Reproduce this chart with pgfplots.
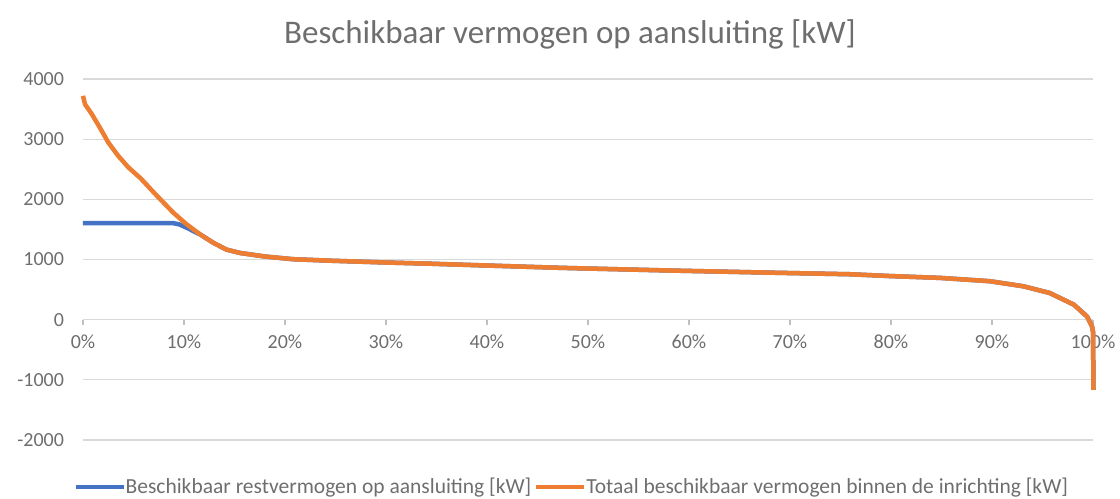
\documentclass[border=0pt]{standalone}
\usepackage{pgfplots}
\pgfplotsset{compat=1.18}
\usepackage{pgfplotstable}
\usepackage{fontspec}
\setmainfont{Carlito}
\definecolor{xlblue}{HTML}{4472C4}
\definecolor{xlorange}{HTML}{ED7D31}
\definecolor{xlgrid}{HTML}{D9D9D9}
\definecolor{xltick}{HTML}{BFBFBF}
\definecolor{xltext}{HTML}{6E6E6E}

\pgfplotstableread{
x y
0 3720
0.2 3580
0.86 3420
1.85 3140
2.5 2945
3.5 2720
4.5 2530
5.7 2350
7.2 2080
8.94 1778
10.27 1583
11.6 1417
12.9 1278
14.2 1165
15.5 1110
18 1050
20.8 1005
24.5 980
30 950
34.4 930
40 900
47.2 862
50 850
58.1 817
60 810
69 778
75.9 755
79.9 725
84.9 694
89.8 639
93.1 555
95.7 444
98.1 250
99.4 55
99.9 -111
100 -200
100.05 -1167
}\orangedata

\pgfplotstableread{
x y
0 1605
8.9 1605
9.5 1585
9.93 1555
10.5 1510
11.0 1465
11.6 1417
12.9 1278
14.2 1165
15.5 1110
18 1050
20.8 1005
24.5 980
30 950
34.4 930
40 900
47.2 862
50 850
58.1 817
60 810
69 778
75.9 755
79.9 725
84.9 694
89.8 639
93.1 555
95.7 444
98.1 250
99.4 55
99.9 -111
100 -200
100.05 -1167
}\bluedata

\begin{document}
\begin{tikzpicture}
\useasboundingbox (-83bp,-59bp) rectangle (1037bp,440bp);
\begin{axis}[
  scale only axis,
  width=1010bp, height=361bp,
  xmin=0, xmax=100, ymin=-2000, ymax=4000,
  axis x line=middle, axis y line=left,
  hide obscured x ticks=false,
  x axis line style={-, draw=xlgrid, line width=1.2bp},
  y axis line style={draw=none},
  xtick={0,10,...,100},
  xticklabels={0\%,10\%,20\%,30\%,40\%,50\%,60\%,70\%,80\%,90\%,100\%},
  ytick={-2000,-1000,0,1000,2000,3000,4000},
  yticklabels={-2000,-1000,0,1000,2000,3000,4000},
  ymajorgrids,
  grid style={xlgrid, line width=1.2bp},
  xtick align=outside,
  major tick length=5bp,
  xtick style={xltick, line width=1.2bp},
  ytick style={draw=none},
  tick label style={font=\fontsize{20bp}{22bp}\selectfont, text=xltext},
  xticklabel style={yshift=-7bp},
  yticklabel style={xshift=-13bp},
  /pgf/number format/assume math mode=true,
  title={Beschikbaar vermogen op aansluiting [kW]},
  title style={font=\fontsize{33bp}{36bp}\selectfont, text=xltext, anchor=center, at={(0.5,1)}, xshift=-18bp, yshift=39bp},
  legend columns=2,
  legend style={draw=none, fill=none, at={(0.484,-0.130)}, anchor=center,
    font=\fontsize{21.5bp}{23bp}\selectfont, text=xltext,
    /tikz/every even column/.append style={column sep=1bp},
    /tikz/every odd column/.append style={column sep=-2bp}},
  legend image code/.code={\draw[#1, line width=4bp] (0bp,0bp) -- (48bp,0bp);},
  clip=false,
]
\addplot[xlblue, line width=4.5bp, line join=round] table[x=x,y=y] {\bluedata};
\addlegendentry{Beschikbaar restvermogen op aansluiting [kW]}
\addplot[xlorange, line width=4.5bp, line join=round] table[x=x,y=y] {\orangedata};
\addlegendentry{Totaal beschikbaar vermogen binnen de inrichting [kW]}
\end{axis}
\end{tikzpicture}
\end{document}
